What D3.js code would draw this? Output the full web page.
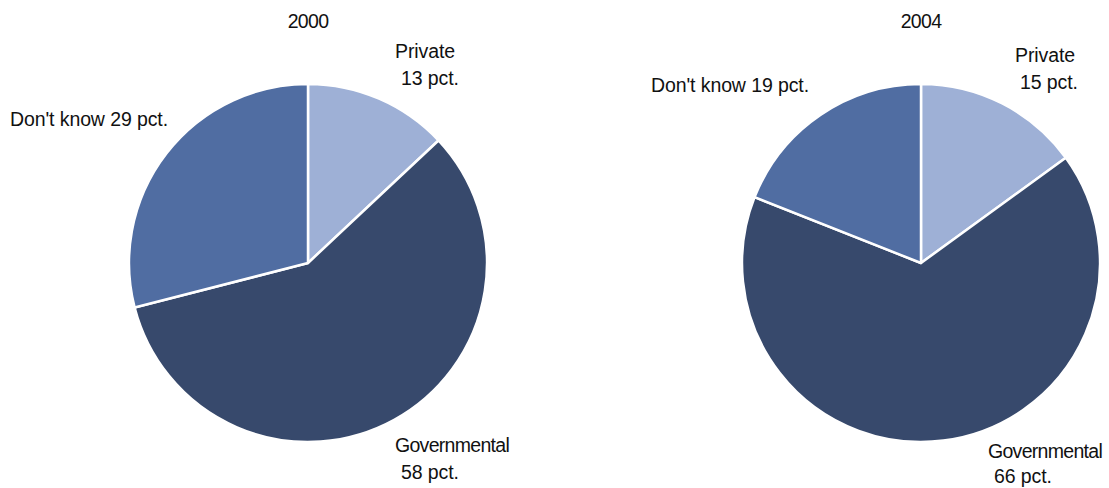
<!DOCTYPE html>
<html>
<head>
<meta charset="utf-8">
<script src="https://cdn.jsdelivr.net/npm/d3@7"></script>
<style>
  html, body { margin: 0; padding: 0; background: #ffffff; }
  text { font-family: "Liberation Sans", Arial, sans-serif; font-size: 19.5px; fill: #111; letter-spacing: -0.1px; }
  text.tight { letter-spacing: -0.7px; }
</style>
</head>
<body>
<svg id="chart" width="1109" height="488"></svg>
<script>
// Survey answers: who should run it?
const categories = ["Private", "Governmental", "Don't know"];
const years = ["2000", "2004"];
const values2000 = [13, 58, 29];
const values2004 = [15, 66, 19];
const colors = ["#9eb0d6", "#37496c", "#506da2"];

const svg = d3.select("#chart");
const color = d3.scaleOrdinal().domain(categories).range(colors);
const pie = d3.pie().sort(null).value(d => d.value);
const radius = 179;
const arc = d3.arc().innerRadius(0).outerRadius(radius);

// Label lines per pie: text, x, baseline y
const panels = [
  {
    year: years[0], values: values2000, cx: 308, cy: 263,
    labels: [
      [["Private", 395, 58], [values2000[0] + " pct.", 401, 85]],
      [["Governmental", 395, 452], [values2000[1] + " pct.", 401, 479]],
      [["Don't know " + values2000[2] + " pct.", 10, 126]]
    ]
  },
  {
    year: years[1], values: values2004, cx: 921, cy: 263,
    labels: [
      [["Private", 1015, 62], [values2004[0] + " pct.", 1020, 89]],
      [["Governmental", 988, 458], [values2004[1] + " pct.", 994, 483]],
      [["Don't know " + values2004[2] + " pct.", 651, 92]]
    ]
  }
];

panels.forEach(p => {
  const g = svg.append("g").attr("transform", `translate(${p.cx},${p.cy})`);
  const data = categories.map((c, i) => ({ category: c, value: p.values[i] }));

  g.selectAll("path")
    .data(pie(data))
    .join("path")
    .attr("d", arc)
    .attr("fill", d => color(d.data.category))
    .attr("stroke", "#ffffff")
    .attr("stroke-width", 2.5)
    .attr("stroke-linejoin", "round");

  svg.append("text")
    .attr("x", p.cx)
    .attr("y", 28)
    .attr("text-anchor", "middle")
    .attr("class", "tight")
    .text(p.year);

  p.labels.forEach(lines => {
    lines.forEach(([txt, x, y]) => {
      svg.append("text")
        .attr("x", x).attr("y", y)
        .attr("class", txt === "Governmental" ? "tight" : null)
        .text(txt);
    });
  });
});
</script>
</body>
</html>
